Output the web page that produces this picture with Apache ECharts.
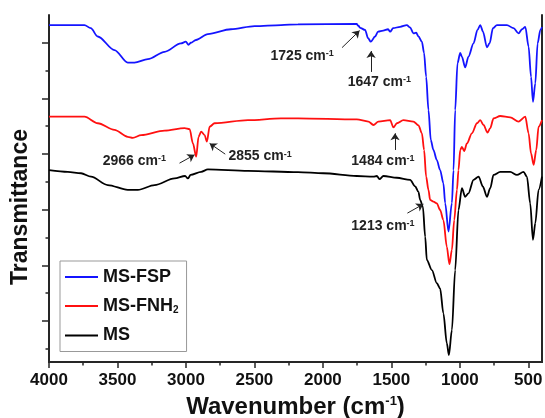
<!DOCTYPE html>
<html>
<head>
<meta charset="utf-8">
<script src="https://cdn.jsdelivr.net/npm/echarts@6/dist/echarts.min.js"></script>
<style>
  html, body { margin: 0; padding: 0; background: #fff; }
  #chart { width: 545px; height: 418px; }
</style>
</head>
<body>
<div id="chart"></div>
<script>
// FTIR spectra, [wavenumber (cm-1), transmittance (arb.)]
const msFsp = [
  [4000, 97.1], [3741, 97.1], [3695, 96.2], [3644, 93.8], [3522, 89.9], [3425, 86.3],
  [3376, 86.3], [3278, 87.3], [3156, 89.4], [3037, 91.8], [3001, 92.3], [2981, 91.4],
  [2964, 92.0], [2927, 92.8], [2840, 94.5], [2672, 95.9], [2498, 96.8], [2306, 97.1],
  [2182, 97.3], [1753, 97.4], [1741, 96.9], [1728, 96.3], [1692, 95.7], [1670, 93.3],
  [1650, 92.3], [1619, 93.8], [1597, 95.2], [1560, 95.5], [1524, 95.9], [1509, 95.2],
  [1487, 96.2], [1436, 96.6], [1387, 97.1], [1363, 96.4], [1339, 94.7], [1319, 94.9],
  [1302, 93.8], [1277, 92.3], [1261, 89.0], [1246, 82.2], [1229, 72.6], [1212, 64.0],
  [1193, 61.1], [1168, 58.2], [1144, 55.3], [1120, 51.5], [1107, 45.8], [1083, 37.6],
  [1058, 45.8], [1046, 55.3], [1034, 72.6], [1017, 86.1], [997, 89.1], [985, 88.0],
  [961, 84.9], [937, 88.0], [900, 91.8], [871, 95.7], [851, 97.1], [831, 95.2],
  [802, 90.7], [783, 91.8], [758, 96.2], [729, 97.1], [656, 97.1], [608, 96.2],
  [571, 94.7], [546, 95.9], [522, 96.6], [498, 90.9], [480, 82.2], [466, 75.0],
  [449, 80.3], [432, 91.8], [412, 95.7], [400, 96.5]
];
const msFnh2 = [
  [4000, 70.7], [3741, 70.7], [3644, 68.8], [3522, 66.9], [3425, 64.9], [3388, 64.6],
  [3327, 65.4], [3156, 66.7], [3010, 67.4], [2973, 67.1], [2949, 63.0], [2925, 59.2],
  [2908, 64.9], [2889, 66.4], [2864, 65.4], [2847, 63.5], [2827, 67.8], [2791, 68.8],
  [2547, 69.7], [2306, 70.2], [2182, 70.2], [1753, 69.9], [1668, 69.3], [1631, 68.3],
  [1595, 69.3], [1509, 69.7], [1485, 67.6], [1460, 68.8], [1412, 69.7], [1339, 69.3],
  [1302, 68.2], [1277, 65.9], [1261, 61.1], [1246, 53.4], [1229, 49.6], [1217, 46.7],
  [1193, 46.2], [1168, 45.7], [1144, 43.8], [1120, 40.9], [1095, 33.2], [1076, 28.2],
  [1058, 32.3], [1041, 40.9], [1021, 49.6], [1010, 55.3], [997, 61.1], [985, 62.0],
  [968, 60.8], [948, 63.0], [912, 65.9], [875, 68.8], [851, 69.7], [827, 68.3],
  [798, 66.1], [778, 67.4], [754, 70.2], [705, 70.9], [632, 70.5], [571, 69.3],
  [522, 70.7], [498, 65.9], [480, 60.1], [461, 56.8], [442, 61.1], [425, 67.8],
  [400, 69.7]
];
const ms = [
  [4000, 55.3], [3863, 54.8], [3766, 54.4], [3693, 53.4], [3571, 51.0], [3425, 49.6],
  [3351, 49.6], [3229, 51.0], [3083, 52.9], [3006, 53.6], [2986, 52.9], [2966, 53.9],
  [2889, 54.8], [2840, 55.5], [2547, 55.1], [2182, 54.7], [1997, 54.4], [1753, 53.6],
  [1631, 53.4], [1606, 53.6], [1587, 52.7], [1558, 53.6], [1460, 53.1], [1363, 52.5],
  [1326, 50.6], [1302, 49.0], [1290, 46.7], [1270, 44.8], [1253, 36.1], [1241, 29.4],
  [1204, 26.5], [1168, 22.7], [1144, 21.2], [1120, 14.0], [1095, 5.4], [1080, 2.0],
  [1058, 9.2], [1034, 26.5], [1010, 43.8], [985, 50.1], [961, 47.6], [937, 48.6],
  [900, 52.5], [863, 53.4], [831, 50.5], [802, 47.6], [778, 50.1], [754, 53.9],
  [705, 54.8], [632, 54.8], [583, 53.9], [535, 54.8], [510, 53.4], [486, 45.7],
  [466, 35.2], [449, 40.0], [425, 49.6], [400, 53.4]
];

const xMajorTicks = [500, 1000, 1500, 2000, 2500, 3000, 3500, 4000];
const xMinorTicks = [750, 1250, 1750, 2250, 2750, 3250, 3750];
const yMajorTicks = [11.8, 27.85, 43.9, 59.95, 76.0, 92.05];
const yMinorTicks = [3.8, 19.85, 35.9, 51.95, 68.0, 84.05];

// peak labels: text anchor (left/middle) and arrow tail -> head
const peakNames = ['1725', '1647', '1484', '2966', '2855', '1213'];
const peakTextAt = [[2386, 88.2], [1823, 80.7], [1796, 58.0], [3612, 58.0], [2693, 59.2], [1796, 39.2]];
const peakArrows = [
  [[1860, 90.6], [1732, 95.5]],
  [[1648, 83.6], [1648, 89.6]],
  [[1473, 61.1], [1473, 65.9]],
  [[3047, 57.3], [2937, 59.7]],
  [[2713, 59.9], [2827, 63.0]],
  [[1383, 42.9], [1266, 45.5]]
];

const frame = '#262626';
const font = 'Liberation Sans, Arial, sans-serif';

const chart = echarts.init(document.getElementById('chart'));

const lineSeries = (name, data, color) => ({
  name: name,
  type: 'line',
  data: data,
  symbol: 'none',
  smooth: 0.3,
  smoothMonotone: 'x',
  lineStyle: { color: color, width: 1.8 },
  itemStyle: { color: color },
  xAxisIndex: 0,
  yAxisIndex: 0,
  z: 3
});

const series = [
  lineSeries('MS-FSP', msFsp, '#1414ff'),
  lineSeries('MS-FNH2', msFnh2, '#ff1010'),
  lineSeries('MS', ms, '#000')
];

series[2].markLine = {
  silent: true,
  symbol: ['none', 'arrow'],
  symbolSize: 7,
  label: { show: false },
  lineStyle: { color: '#222', width: 1, type: 'solid' },
  data: peakArrows.map(a => [{ coord: a[0] }, { coord: a[1] }])
};
series[2].markPoint = {
  silent: true,
  symbol: 'circle',
  symbolSize: 1,
  itemStyle: { color: 'rgba(0,0,0,0)' },
  label: {
    show: true,
    position: 'right',
    distance: 0,
    rich: {
      n: { fontSize: 14, fontWeight: 'bold', color: '#222', fontFamily: font },
      s: { fontSize: 9, fontWeight: 'bold', color: '#222', fontFamily: font, verticalAlign: 'top' }
    }
  },
  data: peakNames.map((p, i) => ({
    coord: peakTextAt[i],
    label: { formatter: '{n|' + p + ' cm}{s|-1}' }
  }))
};

chart.setOption({
  animation: false,
  grid: { left: 49, right: 3, top: 15, bottom: 56, outerBoundsMode: 'none', containLabel: false },
  legend: {
    orient: 'vertical',
    left: 60,
    top: 261,
    padding: [7, 8, 7, 5],
    icon: 'rect',
    itemWidth: 33,
    itemHeight: 2,
    itemGap: 11,
    borderColor: '#999',
    borderWidth: 1,
    data: ['MS-FSP', 'MS-FNH2', 'MS'],
    formatter: name => name === 'MS-FNH2' ? '{t|MS-FNH}{sub|2}' : '{t|' + name + '}',
    textStyle: {
      rich: {
        t: { fontSize: 18, fontWeight: 'bold', color: '#111', fontFamily: font, lineHeight: 18 },
        sub: { fontSize: 10, fontWeight: 'bold', color: '#111', fontFamily: font, verticalAlign: 'bottom', padding: [9, 0, 0, 0] }
      }
    }
  },
  xAxis: [
    {
      type: 'value',
      min: 400,
      max: 4000,
      inverse: true,
      position: 'bottom',
      name: '{w|Wavenumber (cm}{s|-1}{w|)}',
      nameLocation: 'middle',
      nameGap: 33,
      nameTextStyle: {
        rich: {
          w: { fontSize: 24, fontWeight: 'bold', color: '#111', fontFamily: font },
          s: { fontSize: 13, fontWeight: 'bold', color: '#111', fontFamily: font, verticalAlign: 'top' }
        }
      },
      axisLine: { show: true, lineStyle: { color: frame, width: 2 } },
      axisTick: { show: true, inside: false, length: 6, customValues: xMajorTicks, lineStyle: { color: frame, width: 1.5 } },
      axisLabel: {
        show: true,
        customValues: xMajorTicks,
        formatter: v => String(v),
        margin: 10,
        fontSize: 17,
        fontWeight: 'bold',
        color: '#111',
        fontFamily: font
      },
      splitLine: { show: false }
    },
    {
      type: 'value',
      min: 400,
      max: 4000,
      inverse: true,
      position: 'bottom',
      axisLine: { show: false },
      axisTick: { show: true, inside: false, length: 3.5, customValues: xMinorTicks, lineStyle: { color: frame, width: 1.5 } },
      axisLabel: { show: false },
      splitLine: { show: false }
    },
    {
      type: 'value',
      min: 400,
      max: 4000,
      inverse: true,
      position: 'top',
      axisLine: { show: true, lineStyle: { color: frame, width: 2 } },
      axisTick: { show: false },
      axisLabel: { show: false },
      splitLine: { show: false }
    }
  ],
  yAxis: [
    {
      type: 'value',
      min: 0,
      max: 100,
      position: 'left',
      axisLine: { show: true, lineStyle: { color: frame, width: 2 } },
      axisTick: { show: true, inside: false, length: 7, customValues: yMajorTicks, lineStyle: { color: frame, width: 1.5 } },
      axisLabel: { show: false },
      splitLine: { show: false }
    },
    {
      type: 'value',
      min: 0,
      max: 100,
      position: 'left',
      axisLine: { show: false },
      axisTick: { show: true, inside: false, length: 3.5, customValues: yMinorTicks, lineStyle: { color: frame, width: 1.5 } },
      axisLabel: { show: false },
      splitLine: { show: false }
    },
    {
      type: 'value',
      min: 0,
      max: 100,
      position: 'right',
      axisLine: { show: true, lineStyle: { color: frame, width: 2 } },
      axisTick: { show: false },
      axisLabel: { show: false },
      splitLine: { show: false }
    }
  ],
  graphic: [
    {
      type: 'text',
      x: 21,
      y: 207,
      rotation: Math.PI / 2,
      style: {
        text: 'Transmittance',
        font: 'bold 23px ' + font,
        fill: '#111',
        align: 'center',
        verticalAlign: 'middle'
      }
    }
  ],
  series: series
});
</script>
</body>
</html>
